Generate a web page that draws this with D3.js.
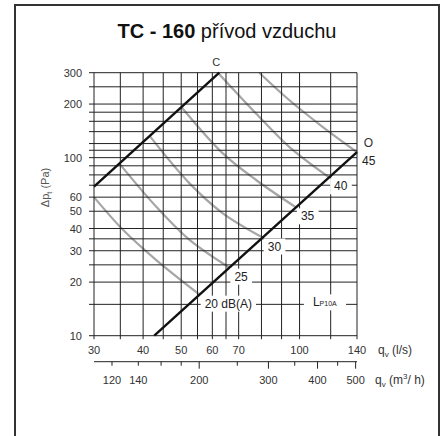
<html>

<head>
  <title>TC - 160 přívod vzduchu</title>

  <script src="https://d3js.org/d3.v7.min.js"></script>

  <style>
    body {
      margin: 0;
      background: #fff;
    }

    text {
      font-family: "Liberation Sans", Arial, sans-serif;
    }

    .grid {
      stroke: #222;
      stroke-width: 1;
    }

    .sound {
      fill: none;
      stroke: #a6a6a6;
      stroke-width: 2.2;
    }

    .limit {
      fill: none;
      stroke: #111;
      stroke-width: 2.4;
    }

    .tick-label {
      font-size: 11px;
      fill: #333;
    }
  </style>
</head>

<body>
  <svg id="chart" width="448" height="436"></svg>

  <script>
    // air flow q (l/s) along the bottom, pressure drop (Pa) up the side, both log
    const qTickLabels = [30, 40, 50, 60, 70, 100, 140];
    const qGridValues = [30, 35, 40, 45, 50, 55, 60, 65, 70, 80, 90, 100, 120, 140];
    const dpTickLabels = [10, 20, 30, 40, 50, 60, 100, 200, 300];
    const dpGridValues = [10, 15, 20, 25, 30, 35, 40, 50, 60, 70, 80, 90, 100, 110, 120, 140, 160, 180, 200, 250, 300];

    // second flow axis in m3/h
    const m3hTicks = [120, 140, 160, 180, 200, 250, 300, 350, 400, 450, 500];
    const m3hLabels = [120, 140, 200, 300, 400, 500];
    const m3hLongTicks = [200, 300, 400, 500];

    // damper closed (C) and open (O) lines, [q l/s, dp Pa]
    const lineC = [[30, 68.7], [62.5, 300]];
    const lineO = [[42.7, 10], [140, 107.5]];

    // L_P10A sound level curves, dB(A)
    const soundLevels = [20, 25, 30, 35, 40, 45];
    const curve20 = [[30, 60], [35.6, 39.2], [43.2, 26.6], [55.7, 17.0]];
    const curve25 = [[34.9, 92], [43.2, 53], [52.5, 34.5], [66.3, 24.1]];
    const curve30 = [[41.6, 132], [52.5, 71.7], [63.8, 48.7], [80.6, 35.6]];
    const curve35 = [[50.1, 192], [63.8, 105.7], [77.5, 74.9], [97.9, 52.6]];
    const curve40 = [[62.0, 300], [77.5, 177], [94.1, 115], [118.9, 77.5]];
    const curve45 = [[79.0, 300], [94.1, 210.7], [114.4, 149], [140, 107.5]];
    const soundCurves = [curve20, curve25, curve30, curve35, curve40, curve45];

    const svg = d3.select("#chart");
    const margin = { top: 72.7, left: 94 };
    const plotSize = 263;

    const x = d3.scaleLog().domain([30, 140]).range([margin.left, margin.left + plotSize]);
    const y = d3.scaleLog().domain([10, 300]).range([margin.top + plotSize, margin.top]);
    // 1 l/s = 3.6 m3/h
    const x2 = d3.scaleLog().domain([30 * 3.6, 140 * 3.6]).range(x.range());

    const bottom = y(10);
    const right = x(140);

    // outer frame (runs off the bottom of the picture)
    svg.append("rect")
      .attr("x", 15).attr("y", 5)
      .attr("width", 424).attr("height", 450)
      .attr("fill", "none")
      .attr("stroke", "#333")
      .attr("stroke-width", 2);

    // title
    const title = svg.append("text")
      .attr("x", 227).attr("y", 38)
      .attr("text-anchor", "middle")
      .attr("font-size", 20)
      .attr("fill", "#111");
    title.append("tspan").attr("font-weight", "bold").text("TC - 160");
    title.append("tspan").text(" přívod vzduchu");

    // sound curves sit under the grid
    const line = d3.line()
      .x(d => x(d[0]))
      .y(d => y(d[1]))
      .curve(d3.curveCatmullRom);

    svg.append("g").selectAll("path").data(soundCurves)
      .join("path")
      .attr("class", "sound")
      .attr("d", line);

    // grid
    svg.append("g").selectAll("line").data(dpGridValues)
      .join("line")
      .attr("class", "grid")
      .attr("x1", margin.left - 5).attr("x2", right)
      .attr("y1", d => y(d)).attr("y2", d => y(d));

    svg.append("g").selectAll("line").data(qGridValues)
      .join("line")
      .attr("class", "grid")
      .attr("x1", d => x(d)).attr("x2", d => x(d))
      .attr("y1", margin.top).attr("y2", bottom + 3.5);

    // tick labels
    svg.append("g").selectAll("text").data(dpTickLabels)
      .join("text")
      .attr("class", "tick-label")
      .attr("text-anchor", "end")
      .attr("x", margin.left - 12)
      .attr("y", d => y(d) + 4)
      .text(d => d);

    svg.append("g").selectAll("text").data(qTickLabels)
      .join("text")
      .attr("class", "tick-label")
      .attr("text-anchor", "middle")
      .attr("x", d => x(d))
      .attr("y", bottom + 18)
      .text(d => d);

    // m3/h axis
    const axis2Y = bottom + 26;
    svg.append("line")
      .attr("class", "grid")
      .attr("x1", margin.left).attr("x2", right)
      .attr("y1", axis2Y).attr("y2", axis2Y);

    svg.append("g").selectAll("line").data(m3hTicks)
      .join("line")
      .attr("class", "grid")
      .attr("x1", d => x2(d)).attr("x2", d => x2(d))
      .attr("y1", axis2Y)
      .attr("y2", d => axis2Y + (m3hLongTicks.includes(d) ? 7 : 4));

    svg.append("g").selectAll("text").data(m3hLabels)
      .join("text")
      .attr("class", "tick-label")
      .attr("text-anchor", "middle")
      .attr("x", d => x2(d))
      .attr("y", axis2Y + 22)
      .text(d => d);

    // axis titles
    const qTitle = svg.append("text")
      .attr("x", right + 21).attr("y", bottom + 18)
      .attr("font-size", 12).attr("fill", "#333");
    qTitle.append("tspan").text("q");
    qTitle.append("tspan").attr("font-size", 8).attr("dy", 3).text("v");
    qTitle.append("tspan").attr("dy", -3).text(" (l/s)");

    const m3hTitle = svg.append("text")
      .attr("x", right + 18).attr("y", axis2Y + 22)
      .attr("font-size", 12).attr("fill", "#333");
    m3hTitle.append("tspan").text("q");
    m3hTitle.append("tspan").attr("font-size", 8).attr("dy", 3).text("v");
    m3hTitle.append("tspan").attr("dy", -3).text(" (m");
    m3hTitle.append("tspan").attr("font-size", 8).attr("dy", -5).text("3");
    m3hTitle.append("tspan").attr("dy", 5).text("/ h)");

    const dpTitle = svg.append("text")
      .attr("transform", "translate(49," + 187.5 + ") rotate(-90)")
      .attr("text-anchor", "middle")
      .attr("font-size", 11).attr("fill", "#555");
    dpTitle.append("tspan").text("Δp");
    dpTitle.append("tspan").attr("font-size", 7.5).attr("dy", 3).text("t");
    dpTitle.append("tspan").attr("dy", -3).text(" (Pa)");

    // C and O lines
    const straight = d3.line().x(d => x(d[0])).y(d => y(d[1]));
    svg.append("path").attr("class", "limit").attr("d", straight(lineC));
    svg.append("path").attr("class", "limit").attr("d", straight(lineO));

    // labels with white boxes that break the grid
    function boxedLabel(px, py, build, padX, padY) {
      const g = svg.append("g");
      const rect = g.append("rect").attr("fill", "#fff");
      const t = g.append("text")
        .attr("x", px).attr("y", py)
        .attr("font-size", 12).attr("fill", "#222");
      build(t);
      const b = t.node().getBBox();
      rect.attr("x", b.x - padX).attr("y", b.y - padY)
        .attr("width", b.width + 2 * padX).attr("height", b.height + 2 * padY);
    }

    soundCurves.forEach((c, i) => {
      const end = c[c.length - 1];
      const txt = soundLevels[i] == 20 ? "20 dB(A)" : String(soundLevels[i]);
      boxedLabel(x(end[0]) + 5, y(end[1]) + 13, t => t.text(txt), 4, 1);
    });

    boxedLabel(x(116) - 12, y(15) + 2, t => {
      t.append("tspan").text("L");
      t.append("tspan").attr("font-size", 7).text("P10A");
    }, 9, 1);

    svg.append("text")
      .attr("x", x(lineC[1][0]) - 3).attr("y", y(lineC[1][1]) - 7)
      .attr("text-anchor", "middle")
      .attr("font-size", 11).attr("fill", "#333")
      .text("C");

    svg.append("text")
      .attr("x", x(lineO[1][0]) + 11.5).attr("y", y(lineO[1][1]) - 5)
      .attr("text-anchor", "middle")
      .attr("font-size", 12).attr("fill", "#333")
      .text("O");
  </script>
</body>

</html>
